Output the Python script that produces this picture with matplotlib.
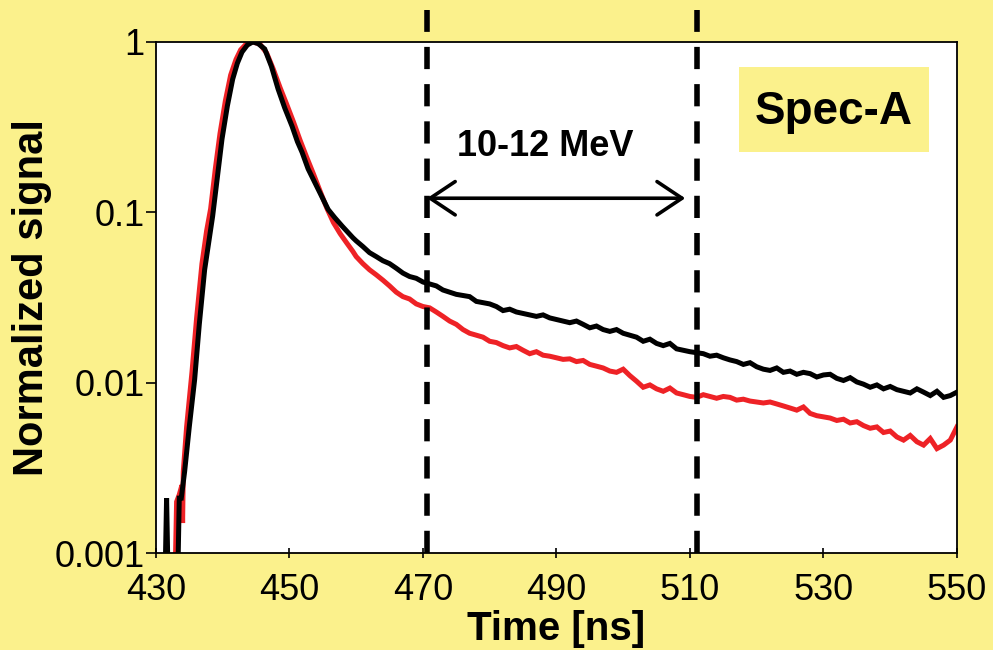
import matplotlib
matplotlib.use("Agg")
import matplotlib.pyplot as plt
from matplotlib.patches import Rectangle

plt.rcParams['font.family'] = ['Liberation Sans', 'DejaVu Sans']

bg = '#FBF18C'
red = '#EE2226'

# leading edge / peak (irregular sampling)
black_t = [431.4, 431.6, 431.8, 433.3, 433.5, 433.8, 434.3, 435.0, 435.8, 436.5,
           437.3, 438.0, 438.5, 439.2, 439.9, 440.7, 441.5, 442.2, 442.9, 443.7,
           444.5, 445.3, 446.3, 447.3, 448.3, 449.3, 450.4, 451.2, 451.9, 452.8,
           453.8, 454.8, 455.8, 456.8, 457.9, 458.8, 459.5]
black_v = [0.0008, 0.0021, 0.0008, 0.0008, 0.0021, 0.0021, 0.0030, 0.0055, 0.0104, 0.022,
           0.046, 0.070, 0.095, 0.16, 0.269, 0.42, 0.605, 0.75, 0.873, 0.96,
           1.0, 0.98, 0.91, 0.72, 0.53, 0.41, 0.32, 0.26, 0.225, 0.18,
           0.150, 0.125, 0.104, 0.093, 0.083, 0.076, 0.071]

red_t = [432.9, 433.1, 433.5, 433.9, 434.0, 434.1, 434.6, 435.4, 436.1, 436.9,
         437.6, 438.2, 438.9, 439.6, 440.4, 441.2, 442.0, 442.7, 443.6, 444.6,
         445.6, 446.6, 447.6, 448.6, 449.6, 450.6, 451.6, 452.6, 453.6, 454.6,
         455.6, 456.6, 457.6, 458.6, 459.5]
red_v = [0.0008, 0.0020, 0.0022, 0.0025, 0.0015, 0.0030, 0.0055, 0.0115, 0.024, 0.050,
         0.078, 0.105, 0.18, 0.29, 0.45, 0.64, 0.79, 0.90, 0.98, 1.0,
         0.97, 0.86, 0.69, 0.54, 0.43, 0.34, 0.265, 0.21, 0.168, 0.133,
         0.106, 0.087, 0.075, 0.066, 0.059]

# tail, 1 ns steps from 460 to 550
tail_t = list(range(460, 551))
black_tail = [0.068, 0.063, 0.058, 0.055, 0.052, 0.050, 0.047, 0.044, 0.042, 0.041,
              0.039, 0.038, 0.037, 0.035, 0.034, 0.033, 0.0325, 0.032, 0.030, 0.0295,
              0.029, 0.028, 0.0265, 0.027, 0.026, 0.0255, 0.025, 0.0245, 0.025, 0.024,
              0.0235, 0.023, 0.0225, 0.023, 0.022, 0.021, 0.0215, 0.0205, 0.020, 0.0205,
              0.0195, 0.019, 0.0185, 0.0175, 0.018, 0.017, 0.0165, 0.017, 0.0158, 0.0155,
              0.0152, 0.015, 0.0148, 0.0143, 0.0145, 0.014, 0.0136, 0.0133, 0.0128, 0.0131,
              0.0124, 0.012, 0.0118, 0.0122, 0.0115, 0.0117, 0.0112, 0.0115, 0.0113, 0.0108,
              0.0111, 0.0112, 0.0106, 0.0103, 0.0107, 0.0101, 0.0098, 0.0094, 0.0097, 0.0092,
              0.0095, 0.0091, 0.0089, 0.0087, 0.0092, 0.0088, 0.0084, 0.0089, 0.0082, 0.0084,
              0.0088]
red_tail = [0.055, 0.050, 0.046, 0.043, 0.040, 0.037, 0.034, 0.032, 0.031, 0.029,
            0.028, 0.0275, 0.026, 0.0245, 0.023, 0.022, 0.0205, 0.0195, 0.019, 0.0185,
            0.0175, 0.0172, 0.0165, 0.016, 0.0163, 0.0155, 0.0148, 0.0152, 0.0145, 0.0143,
            0.014, 0.0137, 0.0138, 0.0133, 0.0135, 0.0128, 0.0125, 0.0122, 0.0117, 0.0115,
            0.012, 0.011, 0.0102, 0.0094, 0.0097, 0.0092, 0.0089, 0.0093, 0.0087, 0.0085,
            0.0083, 0.0082, 0.0085, 0.0083, 0.0081, 0.0083, 0.0082, 0.0079, 0.008, 0.0078,
            0.0077, 0.0076, 0.0077, 0.0075, 0.0073, 0.0071, 0.0069, 0.0072, 0.0066, 0.0064,
            0.0063, 0.0062, 0.006, 0.0061, 0.0058, 0.0059, 0.0056, 0.0054, 0.0055, 0.0051,
            0.0052, 0.0048, 0.0046, 0.0049, 0.0045, 0.0043, 0.0047, 0.0041, 0.0043, 0.0046,
            0.0055]

gate = [470.6, 511.0]
arrow_x = [470.6, 509.3]
arrow_y = 0.121
xticks = [430, 450, 470, 490, 510, 530, 550]
yticks = [0.001, 0.01, 0.1, 1]
yticklabels = ['0.001', '0.01', '0.1', '1']

fig = plt.figure(figsize=(9.93, 6.5), dpi=100, facecolor=bg)
ax = fig.add_axes([0.157, 0.1492, 0.8067, 0.7862])
ax.set_facecolor('white')

ax.plot(red_t + tail_t, red_v + red_tail, color=red, lw=3.6, solid_joinstyle='miter')
ax.plot(black_t + tail_t, black_v + black_tail, color='black', lw=3.6, solid_joinstyle='miter')

ax.set_yscale('log')
ax.set_xlim(430, 550)
ax.set_ylim(0.001, 1.0)
ax.set_xticks(xticks)
ax.set_yticks(yticks)
ax.set_yticklabels(yticklabels)
ax.minorticks_off()
ax.tick_params(axis='y', direction='out', length=7, width=1.2, labelsize=26, pad=1)
ax.tick_params(axis='x', direction='inout', length=7, width=1.2, labelsize=26, pad=11)
for s in ax.spines.values():
    s.set_linewidth(1.3)

ax.set_xlabel('Time [ns]', fontsize=29, fontweight='bold', labelpad=1)
ax.set_ylabel('Normalized signal', fontsize=30, fontweight='bold', labelpad=2)

for g in gate:
    ax.axvline(g, ymin=0, ymax=1.063, color='black', lw=4, dashes=(4, 2.7), clip_on=False)

ax.annotate('', xy=(arrow_x[0], arrow_y), xytext=(arrow_x[1], arrow_y),
            arrowprops=dict(arrowstyle='<->,head_length=0.9,head_width=0.6',
                            color='black', lw=2.6, shrinkA=0, shrinkB=0, mutation_scale=20))
ax.text(488.35, 0.2135, '10-12 MeV', fontsize=26, fontweight='bold', ha='center', va='baseline')

ax.add_patch(Rectangle((0.728, 0.785), 0.237, 0.166, transform=ax.transAxes,
                       facecolor=bg, edgecolor='none', zorder=3))
ax.text(0.846, 0.8395, 'Spec-A', transform=ax.transAxes, fontsize=33, fontweight='bold',
        ha='center', va='baseline', zorder=4)

fig.savefig('out.png', dpi=100, facecolor=bg)
